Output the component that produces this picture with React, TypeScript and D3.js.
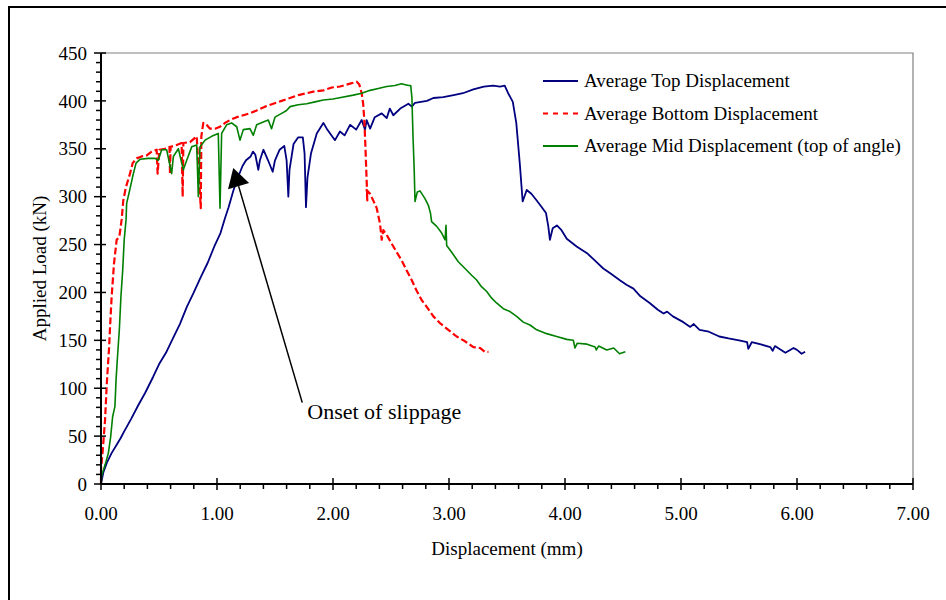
import * as d3 from "d3";
import React from "react";

// Average Top Displacement (mm, kN)
const topSeries: [number, number][] = [
  [0, 0], [0.02, 12], [0.05, 22], [0.09, 32], [0.13, 40], [0.17, 48], [0.2, 55], [0.26, 68],
  [0.32, 82], [0.38, 95], [0.45, 112], [0.5, 125], [0.56, 137], [0.62, 152], [0.68, 167],
  [0.74, 185], [0.8, 200], [0.86, 216], [0.92, 231], [0.98, 249], [1.03, 262], [1.07, 278],
  [1.1, 289], [1.14, 306], [1.18, 320], [1.22, 332], [1.25, 338], [1.29, 342], [1.31, 347],
  [1.33, 344], [1.356, 328], [1.37, 338], [1.4, 349], [1.44, 338], [1.48, 326], [1.5, 338],
  [1.54, 349], [1.58, 353], [1.6, 338], [1.615, 300], [1.625, 328], [1.66, 355], [1.7, 362],
  [1.74, 362], [1.755, 345], [1.767, 289], [1.78, 320], [1.81, 345], [1.86, 366], [1.917, 377],
  [1.946, 371], [1.975, 366], [2.017, 359], [2.06, 368], [2.1, 364], [2.147, 375], [2.2, 370],
  [2.247, 380], [2.276, 370], [2.29, 380], [2.32, 371], [2.36, 383], [2.42, 387], [2.463, 382],
  [2.49, 392], [2.52, 385], [2.58, 392], [2.65, 397], [2.68, 394], [2.707, 398], [2.81, 400],
  [2.865, 403], [2.95, 404], [3.04, 406], [3.12, 408], [3.21, 412], [3.3, 415], [3.38, 416],
  [3.44, 415], [3.48, 416], [3.51, 408], [3.55, 399], [3.58, 377], [3.61, 335], [3.635, 295],
  [3.67, 307], [3.71, 303], [3.756, 296], [3.8, 289], [3.836, 283], [3.856, 269], [3.87, 255],
  [3.894, 267], [3.93, 270], [3.97, 265], [4.015, 256], [4.1, 248], [4.19, 241], [4.27, 232],
  [4.33, 225], [4.39, 220], [4.47, 213], [4.53, 208], [4.59, 204], [4.65, 196], [4.73, 189],
  [4.8, 182], [4.85, 178], [4.88, 180], [4.93, 175], [5.02, 169], [5.08, 164], [5.11, 167],
  [5.16, 161], [5.24, 159], [5.33, 154], [5.41, 152], [5.5, 150], [5.57, 148], [5.58, 141],
  [5.61, 148], [5.68, 146], [5.77, 143], [5.79, 139], [5.81, 144], [5.9, 137], [5.97, 142],
  [6.0, 140], [6.04, 136], [6.07, 138],
];

// Average Bottom Displacement (mm, kN)
const bottomSeries: [number, number][] = [
  [0, 0], [0.0, 15], [0.015, 35], [0.035, 67], [0.05, 105], [0.07, 143], [0.078, 164],
  [0.092, 196], [0.112, 230], [0.135, 255], [0.158, 258], [0.178, 276], [0.192, 296],
  [0.215, 310], [0.25, 324], [0.273, 335], [0.307, 340], [0.35, 342], [0.394, 343],
  [0.437, 347], [0.48, 349], [0.488, 324], [0.503, 349], [0.552, 350], [0.59, 352],
  [0.595, 324], [0.6, 352], [0.652, 354], [0.695, 356], [0.704, 300], [0.71, 356],
  [0.767, 357], [0.825, 363], [0.86, 288], [0.865, 363], [0.882, 377], [0.91, 375],
  [0.94, 371], [0.983, 371], [1.026, 373], [1.069, 377], [1.112, 380], [1.17, 383],
  [1.227, 385], [1.284, 387], [1.342, 390], [1.414, 394], [1.485, 397], [1.557, 400],
  [1.629, 403], [1.701, 406], [1.773, 408], [1.845, 410], [1.917, 411], [1.99, 414],
  [2.06, 415], [2.147, 418], [2.204, 420], [2.227, 417], [2.247, 408], [2.26, 397],
  [2.27, 380], [2.278, 357], [2.29, 317], [2.296, 296], [2.29, 307], [2.319, 303],
  [2.347, 296], [2.377, 288], [2.405, 272], [2.42, 255], [2.434, 265], [2.463, 260],
  [2.506, 251], [2.549, 242], [2.59, 234], [2.635, 223], [2.678, 213], [2.72, 202],
  [2.765, 192], [2.808, 185], [2.865, 175], [2.922, 168], [2.994, 161], [3.066, 154],
  [3.138, 149], [3.21, 143], [3.267, 142], [3.31, 138], [3.34, 138],
];

// Average Mid Displacement (top of angle) (mm, kN)
const midSeries: [number, number][] = [
  [0, 0], [0.006, 9], [0.035, 20], [0.063, 32], [0.083, 49], [0.1, 70], [0.12, 81],
  [0.13, 109], [0.14, 129], [0.158, 161], [0.172, 196], [0.187, 223], [0.2, 255],
  [0.216, 276], [0.221, 293], [0.244, 305], [0.273, 321], [0.302, 335], [0.336, 339],
  [0.408, 340], [0.466, 340], [0.494, 338], [0.523, 349], [0.566, 349], [0.609, 324],
  [0.624, 342], [0.667, 350], [0.71, 328], [0.739, 338], [0.782, 352], [0.825, 354],
  [0.839, 300], [0.853, 352], [0.897, 359], [0.954, 363], [1.011, 366], [1.026, 288],
  [1.04, 366], [1.083, 375], [1.126, 377], [1.17, 373], [1.198, 359], [1.227, 370],
  [1.284, 371], [1.313, 364], [1.342, 375], [1.399, 378], [1.442, 380], [1.47, 371],
  [1.5, 383], [1.557, 387], [1.6, 390], [1.63, 394], [1.7, 396], [1.773, 397],
  [1.845, 399], [1.917, 401], [2.0, 402], [2.046, 403], [2.175, 406], [2.247, 408],
  [2.32, 411], [2.39, 413], [2.463, 415], [2.534, 416], [2.59, 418], [2.65, 416],
  [2.67, 416], [2.68, 404], [2.69, 362], [2.7, 328], [2.707, 295], [2.727, 305],
  [2.75, 306], [2.793, 298], [2.822, 291], [2.84, 283], [2.85, 274], [2.894, 269],
  [2.937, 262], [2.966, 255], [2.974, 270], [2.98, 249], [3.023, 242], [3.08, 232],
  [3.138, 225], [3.195, 218], [3.238, 213], [3.28, 206], [3.325, 201], [3.368, 194],
  [3.41, 189], [3.468, 183], [3.526, 180], [3.583, 175], [3.64, 169], [3.698, 166],
  [3.756, 161], [3.842, 157], [3.928, 154], [4.015, 151], [4.072, 150], [4.086, 142],
  [4.106, 147], [4.19, 146], [4.26, 143], [4.27, 140], [4.29, 144], [4.36, 140],
  [4.42, 142], [4.47, 136], [4.52, 138],
];

const seriesNames = [
  "Average Top Displacement",
  "Average Bottom Displacement",
  "Average Mid Displacement (top of angle)",
];

const xTicks = [0, 1, 2, 3, 4, 5, 6, 7];
const yTicks = [0, 50, 100, 150, 200, 250, 300, 350, 400, 450];

// annotation: arrow tip and tail in data units
const arrowTip: [number, number] = [1.14, 330];
const arrowTail: [number, number] = [1.735, 85];
const annotationText = "Onset of slippage";

const W = 946;
const H = 600;
const left = 101;
const right = 913;
const top = 53;
const bottom = 484;
const font = "'Liberation Serif', 'Times New Roman', serif";

const App = () => {
  const x = d3.scaleLinear().domain([0, 7]).range([left, right]);
  const y = d3.scaleLinear().domain([0, 450]).range([bottom, top]);
  const line = d3
    .line<[number, number]>()
    .x((d) => x(d[0]))
    .y((d) => y(d[1]));

  const xMinor = d3.range(0, 7.001, 0.2).filter((v) => Math.abs(v - Math.round(v)) > 0.01);
  const yMinor = d3.range(0, 451, 10).filter((v) => v % 50 !== 0);

  const styles = [
    { color: "#000080", width: 1.8, dash: "none" },
    { color: "#ff0000", width: 2.2, dash: "7,3" },
    { color: "#008000", width: 1.6, dash: "none" },
  ];
  const allSeries = [topSeries, bottomSeries, midSeries];

  // arrowhead
  const tx = x(arrowTip[0]);
  const ty = y(arrowTip[1]);
  const ex = x(arrowTail[0]);
  const ey = y(arrowTail[1]);
  const len = Math.hypot(ex - tx, ey - ty);
  const ux = (ex - tx) / len;
  const uy = (ey - ty) / len;
  const headLen = 19;
  const headHalf = 11;
  const bx = tx + ux * headLen;
  const by = ty + uy * headLen;
  const head = `${tx},${ty} ${bx - uy * headHalf},${by + ux * headHalf} ${bx + uy * headHalf},${by - ux * headHalf}`;

  return (
    <svg
      width={W}
      height={H}
      style={{ position: "absolute", left: 0, top: 0, background: "#fff" }}
      fontFamily={font}
    >
      <rect x={9} y={7} width={980} height={640} fill="none" stroke="#000" strokeWidth={2} />

      {/* plot frame */}
      <path d={`M${left},${top}H${right}V${bottom}`} fill="none" stroke="#808080" strokeWidth={1.2} />

      {/* series */}
      {allSeries.map((s, i) => (
        <path
          key={i}
          d={line(s) || ""}
          fill="none"
          stroke={styles[i].color}
          strokeWidth={styles[i].width}
          strokeDasharray={styles[i].dash}
          strokeLinejoin="round"
        />
      ))}

      {/* axes */}
      <line x1={left} x2={left} y1={top} y2={bottom} stroke="#000" strokeWidth={2} />
      <line x1={left} x2={right} y1={bottom} y2={bottom} stroke="#000" strokeWidth={2} />
      {yTicks.map((t) => (
        <g key={"y" + t}>
          <line x1={left - 7} x2={left + 5} y1={y(t)} y2={y(t)} stroke="#000" strokeWidth={1.5} />
          <text x={left - 14} y={y(t)} dy="0.35em" textAnchor="end" fontSize={19}>
            {t}
          </text>
        </g>
      ))}
      {yMinor.map((t) => (
        <line key={"ym" + t} x1={left - 5} x2={left} y1={y(t)} y2={y(t)} stroke="#000" strokeWidth={1.5} />
      ))}
      {xTicks.map((t) => (
        <g key={"x" + t}>
          <line x1={x(t)} x2={x(t)} y1={bottom - 6} y2={bottom + 6} stroke="#000" strokeWidth={1.5} />
          <text x={x(t)} y={520} textAnchor="middle" fontSize={19}>
            {d3.format(".2f")(t)}
          </text>
        </g>
      ))}
      {xMinor.map((t) => (
        <line key={"xm" + t} x1={x(t)} x2={x(t)} y1={bottom} y2={bottom + 5} stroke="#000" strokeWidth={1.5} />
      ))}

      {/* axis titles */}
      <text x={(left + right) / 2} y={555} textAnchor="middle" fontSize={19}>
        Displacement (mm)
      </text>
      <text transform={`translate(46,${(top + bottom) / 2}) rotate(-90)`} textAnchor="middle" fontSize={19}>
        Applied Load (kN)
      </text>

      {/* legend */}
      {seriesNames.map((n, i) => (
        <g key={n} transform={`translate(543,${81 + i * 32.5})`}>
          <line
            x1={0}
            x2={35}
            y1={0}
            y2={0}
            stroke={styles[i].color}
            strokeWidth={2}
            strokeDasharray={i === 1 ? "5,5" : "none"}
          />
          <text x={41} y={0} dy="0.33em" fontSize={19}>
            {n}
          </text>
        </g>
      ))}

      {/* annotation */}
      <line x1={bx} y1={by} x2={ex} y2={ey} stroke="#000" strokeWidth={1.5} />
      <polygon points={head} fill="#000" />
      <text x={ex + 5} y={y(arrowTail[1]) + 16} fontSize={22}>
        {annotationText}
      </text>
    </svg>
  );
};

export default App;
